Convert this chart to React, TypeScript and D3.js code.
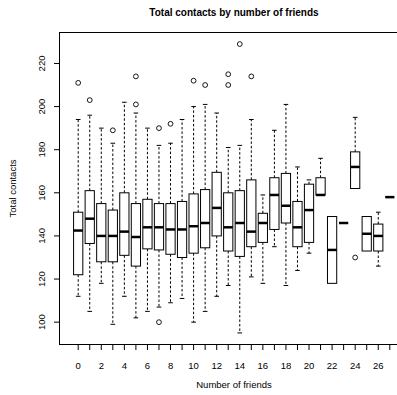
import React from "react";
import * as d3 from "d3";

const friends = [0,1,2,3,4,5,6,7,8,9,10,11,12,13,14,15,16,17,18,19,20,21,22,23,24,25,26,27];
const whiskerLow = [112,105,118,99,112,102,105,107,109,111,100,105,112,117,95,121,118,135,117,124,132,159,118,146,162,133,126,158];
const quartile1 = [122,136.5,128,128,131,126,134,133.5,131.5,130,132,134.5,140,133,130.5,135,137,143,146,135,137,159,118,146,162,133,133,158];
const medians = [142.5,148,140,140,142,139.5,144,144,143,143,144.5,146,153,144,146,142,146,159,154,144,152,159,133.5,146,172,141,140,158];
const quartile3 = [151,161,155,152,160,155,157,155,155,156,159.5,161.5,169.5,160,161,166,150.5,167,169,156,164,167,149,146,179,149,145.5,158];
const whiskerHigh = [194,196,190,183,202,197,190,182,183,194,200,201,197,181,182,194,159,189,201,172,166,176,149,146,195,149,151,158];
const outlierGroup = [0,1,3,5,5,7,7,8,10,11,13,13,14,15,24];
const outlierValue = [211,203,189,214,201,190,100,192,212,210,215,210,229,214,130];
const yTicks = [100,120,140,160,180,200,220];
const xTickLabels = [0,2,4,6,8,10,12,14,16,18,20,22,24,26];

const W = 397, H = 395;
const left = 59.5, right = 408.5, top = 32.5, bottom = 344.5;

export default function App() {
  const x = d3.scaleLinear().domain([-1.62, 28.62]).range([left, right]);
  const y = d3.scaleLinear().domain([89.64, 234.36]).range([bottom, top]);
  const bw = (x(1) - x(0)) * 0.8;
  const half = bw / 2;
  const staple = bw * 0.25;
  const font = "Liberation Sans, Arial, Helvetica, sans-serif";
  return (
    <svg width={W} height={H} style={{ position: "absolute", left: 0, top: 0, background: "#fff" }} fontFamily={font}>
      <rect x={0} y={0} width={W} height={H} fill="#fff" />
      <text x={(left + right) / 2} y={16} textAnchor="middle" fontWeight="bold" fontSize={10}>Total contacts by number of friends</text>
      {friends.map((f, i) => {
        const cx = x(f);
        const hasBox = quartile3[i] > quartile1[i];
        return (
          <g key={f} stroke="#000" fill="none">
            {whiskerHigh[i] > quartile3[i] && (
              <>
                <line x1={cx} x2={cx} y1={y(quartile3[i])} y2={y(whiskerHigh[i])} strokeDasharray="2.5,2" />
                <line x1={cx - staple} x2={cx + staple} y1={y(whiskerHigh[i])} y2={y(whiskerHigh[i])} />
              </>
            )}
            {whiskerLow[i] < quartile1[i] && (
              <>
                <line x1={cx} x2={cx} y1={y(quartile1[i])} y2={y(whiskerLow[i])} strokeDasharray="2.5,2" />
                <line x1={cx - staple} x2={cx + staple} y1={y(whiskerLow[i])} y2={y(whiskerLow[i])} />
              </>
            )}
            {hasBox && (
              <rect x={cx - half} y={y(quartile3[i])} width={bw} height={y(quartile1[i]) - y(quartile3[i])} fill="#fff" />
            )}
            <line x1={cx - half} x2={cx + half} y1={y(medians[i])} y2={y(medians[i])} strokeWidth={2.5} />
          </g>
        );
      })}
      {outlierGroup.map((g, i) => (
        <circle key={"o" + i} cx={x(g)} cy={y(outlierValue[i])} r={2.4} fill="none" stroke="#000" strokeWidth={0.9} />
      ))}
      <rect x={left} y={top} width={right - left} height={bottom - top} fill="none" stroke="#000" />
      {yTicks.map((t) => (
        <g key={"y" + t}>
          <line x1={left - 5.5} x2={left} y1={y(t)} y2={y(t)} stroke="#000" />
          <text transform={`translate(${left - 15},${y(t)}) rotate(-90)`} textAnchor="middle" fontSize={9.5}>{t}</text>
        </g>
      ))}
      {friends.map((f) => (
        <line key={"xt" + f} x1={x(f)} x2={x(f)} y1={bottom} y2={bottom + 5.5} stroke="#000" />
      ))}
      {xTickLabels.map((t) => (
        <text key={"xl" + t} x={x(t)} y={369} textAnchor="middle" fontSize={9.5}>{t}</text>
      ))}
      <text x={(left + right) / 2} y={388} textAnchor="middle" fontSize={9.5}>Number of friends</text>
      <text transform={`translate(16,${(top + bottom) / 2}) rotate(-90)`} textAnchor="middle" fontSize={9.5}>Total contacts</text>
    </svg>
  );
}
